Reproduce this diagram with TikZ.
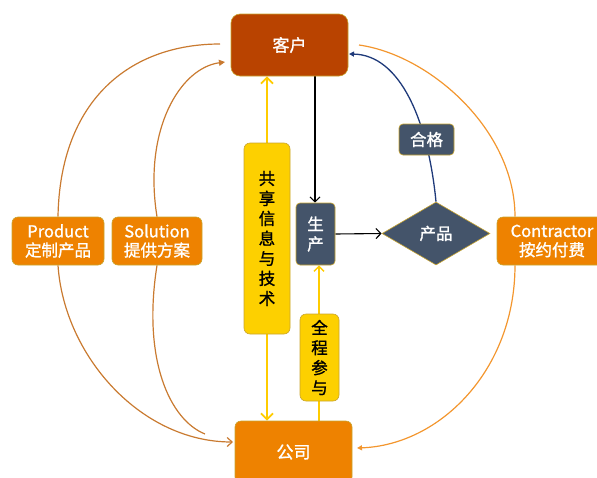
\documentclass[tikz,border=0pt]{standalone}
\usepackage{fontspec}
\setmainfont{Noto Sans CJK SC}
\newfontfamily\medfont{Noto Sans CJK SC}[FakeBold=1.2]
\usetikzlibrary{shapes.geometric,arrows.meta,backgrounds}
\definecolor{kehuC}{HTML}{B94300}
\definecolor{orangeC}{HTML}{EE8200}
\definecolor{yellowC}{HTML}{FDD000}
\definecolor{slateC}{HTML}{44546A}
\definecolor{borderC}{HTML}{C9A530}
\definecolor{blueC}{HTML}{1F3A7A}
\definecolor{brownC}{HTML}{C97A30}
\definecolor{lorangeC}{HTML}{F3962E}
\definecolor{ylineC}{HTML}{FFCC00}
\tikzset{
  box/.style={draw=borderC, line width=0.6pt, rounded corners=6pt, inner sep=0pt, align=center,
    font=\fontsize{16.5}{20}\selectfont\medfont},
  redbox/.style={box, fill=kehuC, text=white, rounded corners=9pt},
  orangebox/.style={box, fill=orangeC, text=white},
  yellowbox/.style={box, fill=yellowC, text=black},
  slatebox/.style={box, fill=slateC, text=white, rounded corners=4pt},
  brownline/.style={draw=brownC, line width=1.2pt},
  lorangeline/.style={draw=lorangeC, line width=1.2pt},
  yline/.style={draw=ylineC, line width=1.5pt},
}
\begin{document}
\begin{tikzpicture}[x=1pt,y=-1pt]
\useasboundingbox (0,0) rectangle (597,477);
\clip (0,0) rectangle (597,477);

\node[redbox, minimum width=117pt, minimum height=62pt, font=\fontsize{17}{20}\selectfont\medfont] (kehu) at (289.5,45) {客户};
\node[orangebox, minimum width=117pt, minimum height=62pt, font=\fontsize{17}{20}\selectfont\medfont] (gongsi) at (293.5,452) {公司};
\node[yellowbox, minimum width=46pt, minimum height=191pt] (share) at (267,238.5) {共\\享\\信\\息\\与\\技\\术};
\node[slatebox, minimum width=39pt, minimum height=62pt] (sc) at (315.5,234) {生\\产};
\node[draw=borderC, line width=0.6pt, fill=slateC, shape=diamond, aspect=1.7, inner sep=0pt,
  minimum width=108pt, minimum height=63pt, text=white, font=\fontsize{16.5}{20}\selectfont\medfont] (cp) at (436,233.5) {产品};
\node[slatebox, minimum width=55pt, minimum height=31pt] (hege) at (426.5,139.5) {合格};
\node[yellowbox, minimum width=39pt, minimum height=87pt] (qc) at (319.5,357.5) {全\\程\\参\\与};
\node[orangebox, minimum width=92pt, minimum height=48pt, font=\fontsize{16.5}{19}\selectfont\medfont] (product) at (58,241) {Product\\定制产品};
\node[orangebox, minimum width=90pt, minimum height=48pt, font=\fontsize{16.5}{19}\selectfont\medfont] (solution) at (157,241) {Solution\\提供方案};
\node[orangebox, minimum width=110pt, minimum height=48pt, font=\fontsize{16.5}{19}\selectfont\medfont] (contractor) at (552,241) {Contractor\\按约付费};

\coordinate (pend) at (220,44);
\coordinate (send) at (225,62);
\coordinate (pbend) at (233,442);
\coordinate (sbend) at (205,434);
\coordinate (cstart) at (359,45);
\coordinate (cbend) at (357,448);
\coordinate (bend) at (349,54);
\coordinate (qcx) at ([xshift=-0.5pt]qc.center);
\coordinate (scx) at ([xshift=-0.5pt]sc.north);

\begin{scope}[on background layer]
  \draw[brownline] (product.north) .. controls (60,100) and (130,44) .. (pend);
  \draw[brownline, -{Triangle[length=6pt,width=6pt]}] (solution.north) .. controls (143,130) and (180,68) .. (send);
  \draw[brownline, -{Straight Barb[length=5pt,width=9pt]}] (product.south) .. controls (64,355) and (140,442) .. (pbend);
  \draw[brownline] (solution.south) .. controls (142,360) and (170,420) .. (sbend);
  \draw[lorangeline] (cstart) .. controls (430,55) and (515,130) .. ([xshift=-37pt]contractor.north);
  \draw[lorangeline, -{Triangle[length=5pt,width=5pt]}] ([xshift=-37pt]contractor.south) .. controls (515,370) and (440,445) .. (cbend);
  \draw[draw=blueC, line width=1.3pt, -{Triangle[length=5pt,width=5pt]}] (cp.north) .. controls (428,120) and (400,55) .. (bend);
  \draw[yline, line width=1.9pt, {Straight Barb[length=6pt,width=12pt]}-{Straight Barb[length=6pt,width=12pt]}] (share.center |- kehu.south) -- (share.center |- gongsi.north);
  \draw[yline, -{Straight Barb[length=5pt,width=10pt]}] (qcx |- gongsi.north) -- (qcx |- sc.south);
  \draw[black, line width=1.1pt, -{Straight Barb[length=5pt,width=10pt]}] (scx |- kehu.south) -- (scx);
  \draw[black, line width=1.1pt, -{Straight Barb[length=5pt,width=10pt]}] (sc.east) -- (cp.west);
\end{scope}
\end{tikzpicture}
\end{document}
